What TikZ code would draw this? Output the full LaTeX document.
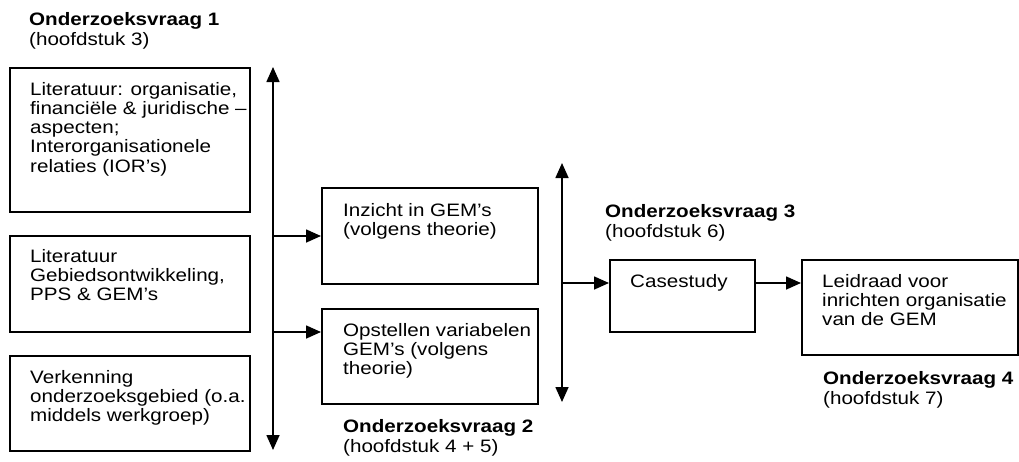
\documentclass[tikz,border=0pt]{standalone}
\usepackage{fontspec}
\setmainfont{Liberation Sans}[FakeStretch=1.145]
\usetikzlibrary{arrows.meta}
\begin{document}
\begin{tikzpicture}[x=1pt,y=-1pt,
  box/.style={draw, line width=1.6pt, inner sep=0pt, anchor=north west},
  label/.style={anchor=north west, inner sep=0pt, align=left,
    font=\fontsize{18}{19.2}\selectfont},
  title/.style={anchor=north west, inner sep=0pt, align=left,
    font=\fontsize{18}{20.5}\selectfont},
  conn/.style={line width=1.6pt, -{Triangle[length=15pt,width=13pt]}},
  biconn/.style={line width=1.6pt,
    {Triangle[length=15pt,width=13pt]}-{Triangle[length=15pt,width=13pt]}},
  ]
\useasboundingbox (0,0) rectangle (1019,461);

% boxes
\node[box, minimum width=240pt, minimum height=144pt] (b1) at (9,67) {};
\node[box, minimum width=240pt, minimum height=96pt]  (b2) at (9,235) {};
\node[box, minimum width=240pt, minimum height=95pt]  (b3) at (9,355) {};
\node[box, minimum width=216pt, minimum height=96pt]  (inz) at (321,187) {};
\node[box, minimum width=216pt, minimum height=95pt]  (ops) at (321,308) {};
\node[box, minimum width=145pt, minimum height=72pt]  (cs) at (609,259) {};
\node[box, minimum width=216pt, minimum height=95pt]  (ld) at (801,259) {};

% box texts
\node[label] (b1t) at (30,82) {Literatuur: organisatie,\\financiële \& juridische –\\aspecten;\\Interorganisationele\\relaties (IOR’s)};
\node[label] (b2t) at (30,249) {Literatuur\\Gebiedsontwikkeling,\\PPS \& GEM’s};
\node[label] (b3t) at (30,370) {Verkenning\\onderzoeksgebied (o.a.\\middels werkgroep)};
\node[label] (inzt) at (343,203) {Inzicht in GEM’s\\(volgens theorie)};
\node[label] (opst) at (343,323) {Opstellen variabelen\\GEM’s (volgens\\theorie)};
\node[label] (cst) at (630,274) {Casestudy};
\node[label] (ldt) at (822,274) {Leidraad voor\\inrichten organisatie\\van de GEM};

% research questions
\node[title] (q1) at (29,12) {\textbf{Onderzoeksvraag 1}\\(hoofdstuk 3)};
\node[title] (q2) at (343,419) {\textbf{Onderzoeksvraag 2}\\(hoofdstuk 4 + 5)};
\node[title] (q3) at (605,204) {\textbf{Onderzoeksvraag 3}\\(hoofdstuk 6)};
\node[title] (q4) at (823,371) {\textbf{Onderzoeksvraag 4}\\(hoofdstuk 7)};

% vertical collectors and branch points
\coordinate (v1t) at (273,67);
\coordinate (v1b) at (273,450);
\coordinate (j1) at (273,236);
\coordinate (j2) at (273,332);
\coordinate (v2t) at (562,163);
\coordinate (v2b) at (562,402);
\coordinate (j3) at (562,283);

\draw[biconn] (v1b) -- (v1t);
\draw[biconn] (v2b) -- (v2t);
\draw[conn] (j1) -- (j1 -| inz.west);
\draw[conn] (j2) -- (j2 -| ops.west);
\draw[conn] (j3) -- (j3 -| cs.west);
\draw[conn] (cs.east |- j3) -- (ld.west |- j3);
\end{tikzpicture}
\end{document}
